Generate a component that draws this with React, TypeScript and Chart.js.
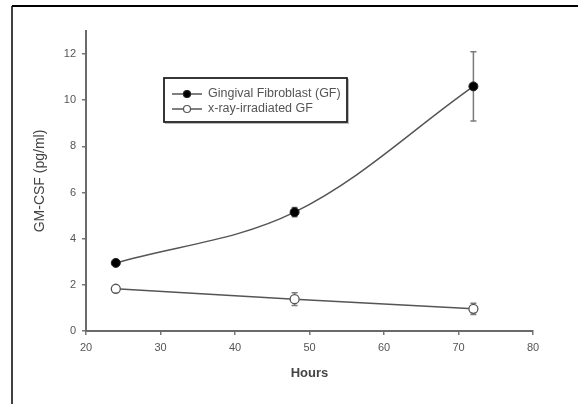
import React, { useEffect, useRef } from "react";
import { Chart, registerables } from "chart.js";

Chart.register(...registerables);

const hours = [24, 48, 72];
const gfValues = [2.95, 5.15, 10.6];
const gfErrors = [0.08, 0.2, 1.5];
const irrValues = [1.83, 1.38, 0.96];
const irrErrors = [0.05, 0.28, 0.24];
const xTickValues = [20, 30, 40, 50, 60, 70, 80];
const yTickValues = [0, 2, 4, 6, 8, 10, 12];
const seriesLabels = ["Gingival Fibroblast (GF)", "x-ray-irradiated GF"];
const xTitle = "Hours";
const yTitle = "GM-CSF (pg/ml)";

const FONT = "'Liberation Sans', Arial, sans-serif";

const errorBarPlugin = {
  id: "errorBars",
  beforeDatasetsDraw(chart: any) {
    const { ctx } = chart;
    const xs = chart.scales.x;
    const ys = chart.scales.y;
    chart.data.datasets.forEach((ds: any) => {
      const errs: number[] = ds.errors || [];
      ds.data.forEach((p: any, j: number) => {
        const e = errs[j];
        if (!e) return;
        const px = xs.getPixelForValue(p.x);
        const top = ys.getPixelForValue(p.y + e);
        const bot = ys.getPixelForValue(p.y - e);
        ctx.save();
        ctx.strokeStyle = "#7a7a7a";
        ctx.lineWidth = 1.5;
        ctx.beginPath();
        ctx.moveTo(px, top);
        ctx.lineTo(px, bot);
        ctx.moveTo(px - 3, top);
        ctx.lineTo(px + 3, top);
        ctx.moveTo(px - 3, bot);
        ctx.lineTo(px + 3, bot);
        ctx.stroke();
        ctx.restore();
      });
    });
  },
};

const framePlugin = {
  id: "frame",
  afterDraw(chart: any) {
    const { ctx, width, height } = chart;
    ctx.save();
    ctx.strokeStyle = "#000";
    ctx.lineWidth = 2;
    ctx.beginPath();
    ctx.moveTo(width, 6);
    ctx.lineTo(12, 6);
    ctx.stroke();
    ctx.lineWidth = 1.5;
    ctx.beginPath();
    ctx.moveTo(12, 6);
    ctx.lineTo(12, height);
    ctx.stroke();
    ctx.restore();
  },
};

const boxLegendPlugin = {
  id: "boxLegend",
  afterDraw(chart: any) {
    const { ctx } = chart;
    const bx = 164, by = 78, bw = 183, bh = 44;
    ctx.save();
    ctx.strokeStyle = "#bbb";
    ctx.lineWidth = 1;
    ctx.strokeRect(bx + 1.5, by + 1.5, bw, bh);
    ctx.strokeStyle = "#222";
    ctx.lineWidth = 1.8;
    ctx.fillStyle = "#fff";
    ctx.fillRect(bx, by, bw, bh);
    ctx.strokeRect(bx, by, bw, bh);
    chart.data.datasets.forEach((ds: any, i: number) => {
      const y = by + 16 + i * 15;
      ctx.strokeStyle = "#555";
      ctx.lineWidth = 1.5;
      ctx.beginPath();
      ctx.moveTo(bx + 8, y);
      ctx.lineTo(bx + 38, y);
      ctx.stroke();
      ctx.beginPath();
      ctx.arc(bx + 23, y, 3.5, 0, Math.PI * 2);
      ctx.fillStyle = ds.pointBackgroundColor;
      ctx.fill();
      ctx.strokeStyle = ds.pointBorderColor;
      ctx.lineWidth = 1.2;
      ctx.stroke();
      ctx.fillStyle = "#555";
      ctx.font = `12.5px ${FONT}`;
      ctx.textBaseline = "middle";
      ctx.textAlign = "left";
      ctx.fillText(ds.label, bx + 44, y);
    });
    ctx.restore();
  },
};

export default function App() {
  const ref = useRef<HTMLCanvasElement | null>(null);

  useEffect(() => {
    document.body.style.margin = "0";
    const canvas = ref.current;
    if (!canvas) return;
    const chart = new Chart(canvas, {
      type: "line",
      data: {
        datasets: [
          {
            label: seriesLabels[0],
            data: hours.map((h, i) => ({ x: h, y: gfValues[i] })),
            errors: gfErrors,
            borderColor: "#555",
            borderWidth: 1.5,
            tension: 0.35,
            pointRadius: 4.5,
            pointBackgroundColor: "#000",
            pointBorderColor: "#222",
            pointBorderWidth: 1,
          } as any,
          {
            label: seriesLabels[1],
            data: hours.map((h, i) => ({ x: h, y: irrValues[i] })),
            errors: irrErrors,
            borderColor: "#555",
            borderWidth: 1.5,
            tension: 0.2,
            pointRadius: 4.5,
            pointBackgroundColor: "#fff",
            pointBorderColor: "#555",
            pointBorderWidth: 1.3,
          } as any,
        ],
      },
      options: {
        animation: false,
        responsive: false,
        devicePixelRatio: 1,
        layout: { padding: { top: 31, right: 45, left: 0, bottom: 0 } },
        plugins: {
          legend: { display: false },
          tooltip: { enabled: false },
        },
        scales: {
          x: {
            type: "linear",
            min: 20,
            max: 80,
            afterFit: (s: any) => {
              s.height = 73;
            },
            afterBuildTicks: (s: any) => {
              s.ticks = xTickValues.map((v) => ({ value: v }));
            },
            ticks: {
              stepSize: 10,
              padding: 6,
              color: "#555",
              font: { family: FONT, size: 11 },
            },
            grid: {
              display: true,
              drawOnChartArea: false,
              drawTicks: true,
              tickLength: 4,
              color: "#777",
              lineWidth: 1.5,
            },
            border: { display: true, color: "#6a6a6a", width: 2 },
            title: {
              display: true,
              text: xTitle,
              color: "#444",
              font: { family: FONT, size: 13, weight: "bold" },
              padding: { top: 0, bottom: 23 },
            },
          },
          y: {
            type: "linear",
            min: 0,
            max: 13,
            afterFit: (s: any) => {
              s.width = 86;
            },
            afterBuildTicks: (s: any) => {
              s.ticks = yTickValues.map((v) => ({ value: v }));
            },
            ticks: {
              stepSize: 2,
              padding: 6,
              color: "#555",
              font: { family: FONT, size: 11 },
            },
            grid: {
              display: true,
              drawOnChartArea: false,
              drawTicks: true,
              tickLength: 4,
              color: "#777",
              lineWidth: 1.5,
            },
            border: { display: true, color: "#6a6a6a", width: 2 },
            title: {
              display: true,
              text: yTitle,
              color: "#444",
              font: { family: FONT, size: 14 },
              padding: { top: 32, bottom: 0 },
            },
          },
        },
      },
      plugins: [errorBarPlugin, framePlugin, boxLegendPlugin],
    } as any);
    return () => chart.destroy();
  }, []);

  return (
    <div style={{ width: 578, height: 404 }}>
      <canvas ref={ref} width={578} height={404} style={{ display: "block" }} />
    </div>
  );
}
